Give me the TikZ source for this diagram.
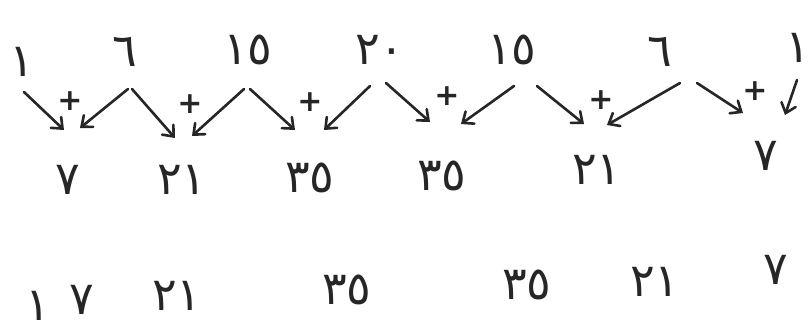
\documentclass[tikz,border=0pt]{standalone}
\usepackage{fontspec}
\newfontfamily\arabicfont[Script=Arabic]{DejaVu Sans}
\newfontfamily\plusfont{DejaVu Sans}
\usetikzlibrary{arrows.meta}
\begin{document}
\begin{tikzpicture}[x=1pt,y=-1pt,
  num/.style={font=\arabicfont\fontsize{46}{50}\selectfont, inner sep=0pt, text=black!85},
  plus/.style={font=\plusfont\bfseries\fontsize{30}{34}\selectfont, inner sep=0pt, text=black!85},
  arr/.style={draw=black!85, line width=2.6pt, line cap=round, -{Straight Barb[length=9pt,width=15pt,line cap=round]}}]
\useasboundingbox[fill=white] (0,0) rectangle (812,335);
% top row
\node[num] (t1) at (22,62) {١};
\node[num] (t2) at (125,52) {٦};
\node[num] (t3) at (248,50) {١٥};
\node[num] (t4) at (380,50) {٢٠};
\node[num] (t5) at (512,50) {١٥};
\node[num] (t6) at (660,52) {٦};
\node[num] (t7) at (798,48) {١};
% plus signs
\node[plus] (p1) at (70,101) {+};
\node[plus] (p2) at (190,104) {+};
\node[plus] (p3) at (310,102) {+};
\node[plus] (p4) at (447,96) {+};
\node[plus] (p5) at (601,100) {+};
\node[plus] (p6) at (755,91) {+};
% arrow start coordinates
\coordinate (a1) at (24,92);
\coordinate (b1) at (128,89);
\coordinate (a2) at (132,89);
\coordinate (b2) at (244,89);
\coordinate (a3) at (250,89);
\coordinate (b3) at (370,86);
\coordinate (a4) at (386,83);
\coordinate (b4) at (514,86);
\coordinate (a5) at (537,86);
\coordinate (b5) at (680,83);
\coordinate (a6) at (697,83);
\coordinate (b6) at (797,80);
% arrow tips
\coordinate (l1) at (64,130);
\coordinate (r1) at (80,128);
\coordinate (l2) at (175,138);
\coordinate (r2) at (192,136);
\coordinate (l3) at (295,130);
\coordinate (r3) at (324,130);
\coordinate (l4) at (430,122);
\coordinate (r4) at (461,124);
\coordinate (l5) at (584,124);
\coordinate (r5) at (607,125);
\coordinate (l6) at (743,113);
\coordinate (r6) at (785,115);
\draw[arr] (a1) -- (l1);
\draw[arr] (b1) -- (r1);
\draw[arr] (a2) -- (l2);
\draw[arr] (b2) -- (r2);
\draw[arr] (a3) -- (l3);
\draw[arr] (b3) -- (r3);
\draw[arr] (a4) -- (l4);
\draw[arr] (b4) -- (r4);
\draw[arr] (a5) -- (l5);
\draw[arr] (b5) -- (r5);
\draw[arr] (a6) -- (l6);
\draw[arr] (b6) -- (r6);
% middle row
\node[num] (m1) at (68,180) {٧};
\node[num] (m2) at (182,180) {٢١};
\node[num] (m3) at (310,178) {٣٥};
\node[num] (m4) at (442,176) {٣٥};
\node[num] (m5) at (597,170) {٢١};
\node[num] (m6) at (766,156) {٧};
% bottom row
\node[num] (w1) at (38,306) {١};
\node[num] (w2) at (82,300) {٧};
\node[num] (w3) at (177,296) {٢١};
\node[num] (w4) at (347,290) {٣٥};
\node[num] (w5) at (527,285) {٣٥};
\node[num] (w6) at (655,282) {٢١};
\node[num] (w7) at (776,270) {٧};
\end{tikzpicture}
\end{document}
